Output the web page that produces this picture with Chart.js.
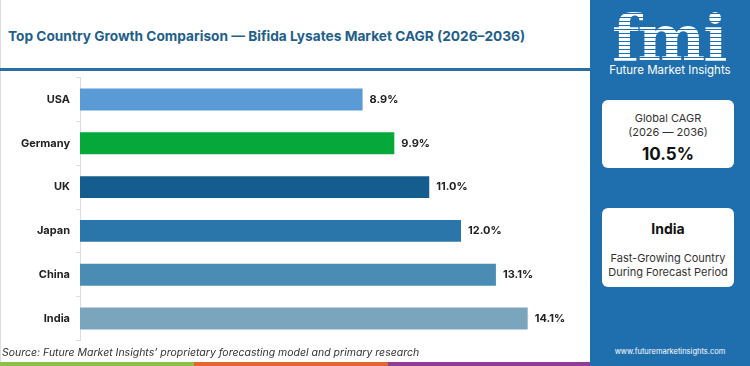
<!DOCTYPE html>
<html>
<head>
<meta charset="utf-8">
<script src="https://cdn.jsdelivr.net/npm/chart.js@4"></script>
<style>
  html, body { margin: 0; padding: 0; background: #fff; }
  body { width: 750px; height: 366px; position: relative; overflow: hidden; font-family: Inter, "Open Sans", sans-serif; }
  #card { position: absolute; left: 0; top: 0; width: 589px; height: 362px; border-left: 1px solid #ddd; box-sizing: border-box; }
  #title { position: absolute; left: 8px; top: 28px; font-size: 13.7px; font-weight: 700; color: #1f5f8b; white-space: nowrap; }
  #rule { position: absolute; left: 0; top: 68px; width: 590px; height: 3px; background: #2a6fa3; }
  #chartBox { position: absolute; left: 0; top: 65px; width: 588px; height: 288px; }
  #source { position: absolute; left: 2px; top: 346px; font-size: 10.5px; font-style: italic; color: #333; white-space: nowrap; }
  .stripe { position: absolute; top: 362px; height: 4px; }
  #panel { position: absolute; left: 590px; top: 0; width: 160px; height: 366px; background: #1f6fae; }
  #logo { position: absolute; left: 22px; top: 6px; font-family: "DejaVu Serif", serif; font-weight: 700; font-size: 64px; line-height: 1;
          background: repeating-linear-gradient(to bottom, #fff 0px, #fff 3px, #1f6fae 3px, #1f6fae 4px);
          -webkit-background-clip: text; background-clip: text; color: transparent; letter-spacing: -2px; }
  #brand { position: absolute; left: 0; width: 160px; top: 63px; text-align: center; color: #fff; font-size: 11.5px; }
  .box { position: absolute; left: 12px; width: 132px; background: #fff; border-radius: 6px; text-align: center; color: #333; }
  #site { position: absolute; left: 0; width: 160px; top: 347px; text-align: center; color: #fff; font-size: 7.5px; }
</style>
</head>
<body>
<div id="card"></div>
<div id="title">Top Country Growth Comparison — Bifida Lysates Market CAGR (2026–2036)</div>
<div id="rule"></div>
<div id="chartBox"><canvas id="chart"></canvas></div>
<div id="source">Source: Future Market Insights’ proprietary forecasting model and primary research</div>
<div class="stripe" style="left:0;width:194px;background:#8bc04a"></div>
<div class="stripe" style="left:194px;width:194px;background:#e5652e"></div>
<div class="stripe" style="left:388px;width:202px;background:#8e3c98"></div>
<div id="panel">
  <div id="logo">fmi</div>
  <div id="brand">Future Market Insights</div>
  <div class="box" style="top:100px;height:68px;">
    <div style="margin-top:11px;font-size:11px;">Global CAGR</div>
    <div style="margin-top:0px;font-size:11px;">(2026 — 2036)</div>
    <div style="margin-top:5px;font-size:17px;font-weight:700;color:#111;">10.5%</div>
  </div>
  <div class="box" style="top:208px;height:79px;">
    <div style="margin-top:12px;font-size:14px;font-weight:700;color:#111;">India</div>
    <div style="margin-top:14px;font-size:11px;">Fast-Growing Country</div>
    <div style="margin-top:0px;font-size:11px;">During Forecast Period</div>
  </div>
  <div id="site">www.futuremarketinsights.com</div>
</div>

<script>
const countries = ["USA", "Germany", "UK", "Japan", "China", "India"];
const cagr = [8.9, 9.9, 11.0, 12.0, 13.1, 14.1];
const barColors = ["#5b9bd5", "#05a839", "#165d8f", "#2a75a9", "#4a8cb4", "#7ba5bd"];

const valueLabels = {
    id: "valueLabels",
    afterDatasetsDraw(chart) {
        const ctx = chart.ctx;
        const meta = chart.getDatasetMeta(0);
        ctx.save();
        ctx.font = "700 11px Inter, sans-serif";
        ctx.fillStyle = "#222";
        ctx.textBaseline = "middle";
        meta.data.forEach((bar, i) => {
            ctx.fillText(cagr[i].toFixed(1) + "%", bar.x + 7, bar.y);
        });
        ctx.restore();
    }
};

new Chart(document.getElementById("chart"), {
    type: "bar",
    data: {
        labels: countries,
        datasets: [{
            data: cagr,
            backgroundColor: barColors,
            categoryPercentage: 1,
            barPercentage: 0.5
        }]
    },
    options: {
        indexAxis: "y",
        responsive: true,
        maintainAspectRatio: false,
        animation: false,
        layout: { padding: { top: 4, bottom: 4, left: 0, right: 0 } },
        plugins: { legend: { display: false }, tooltip: { enabled: false } },
        scales: {
            x: { display: false, min: 0, max: 16 },
            y: {
                afterFit(scale) { scale.width = 80; },
                grid: { drawOnChartArea: false, tickLength: 4, color: "#ddd" },
                border: { color: "#ddd" },
                ticks: { color: "#222", padding: 6, font: { family: "Inter, sans-serif", weight: "700", size: 11 } }
            }
        }
    },
    plugins: [valueLabels]
});
</script>
</body>
</html>
